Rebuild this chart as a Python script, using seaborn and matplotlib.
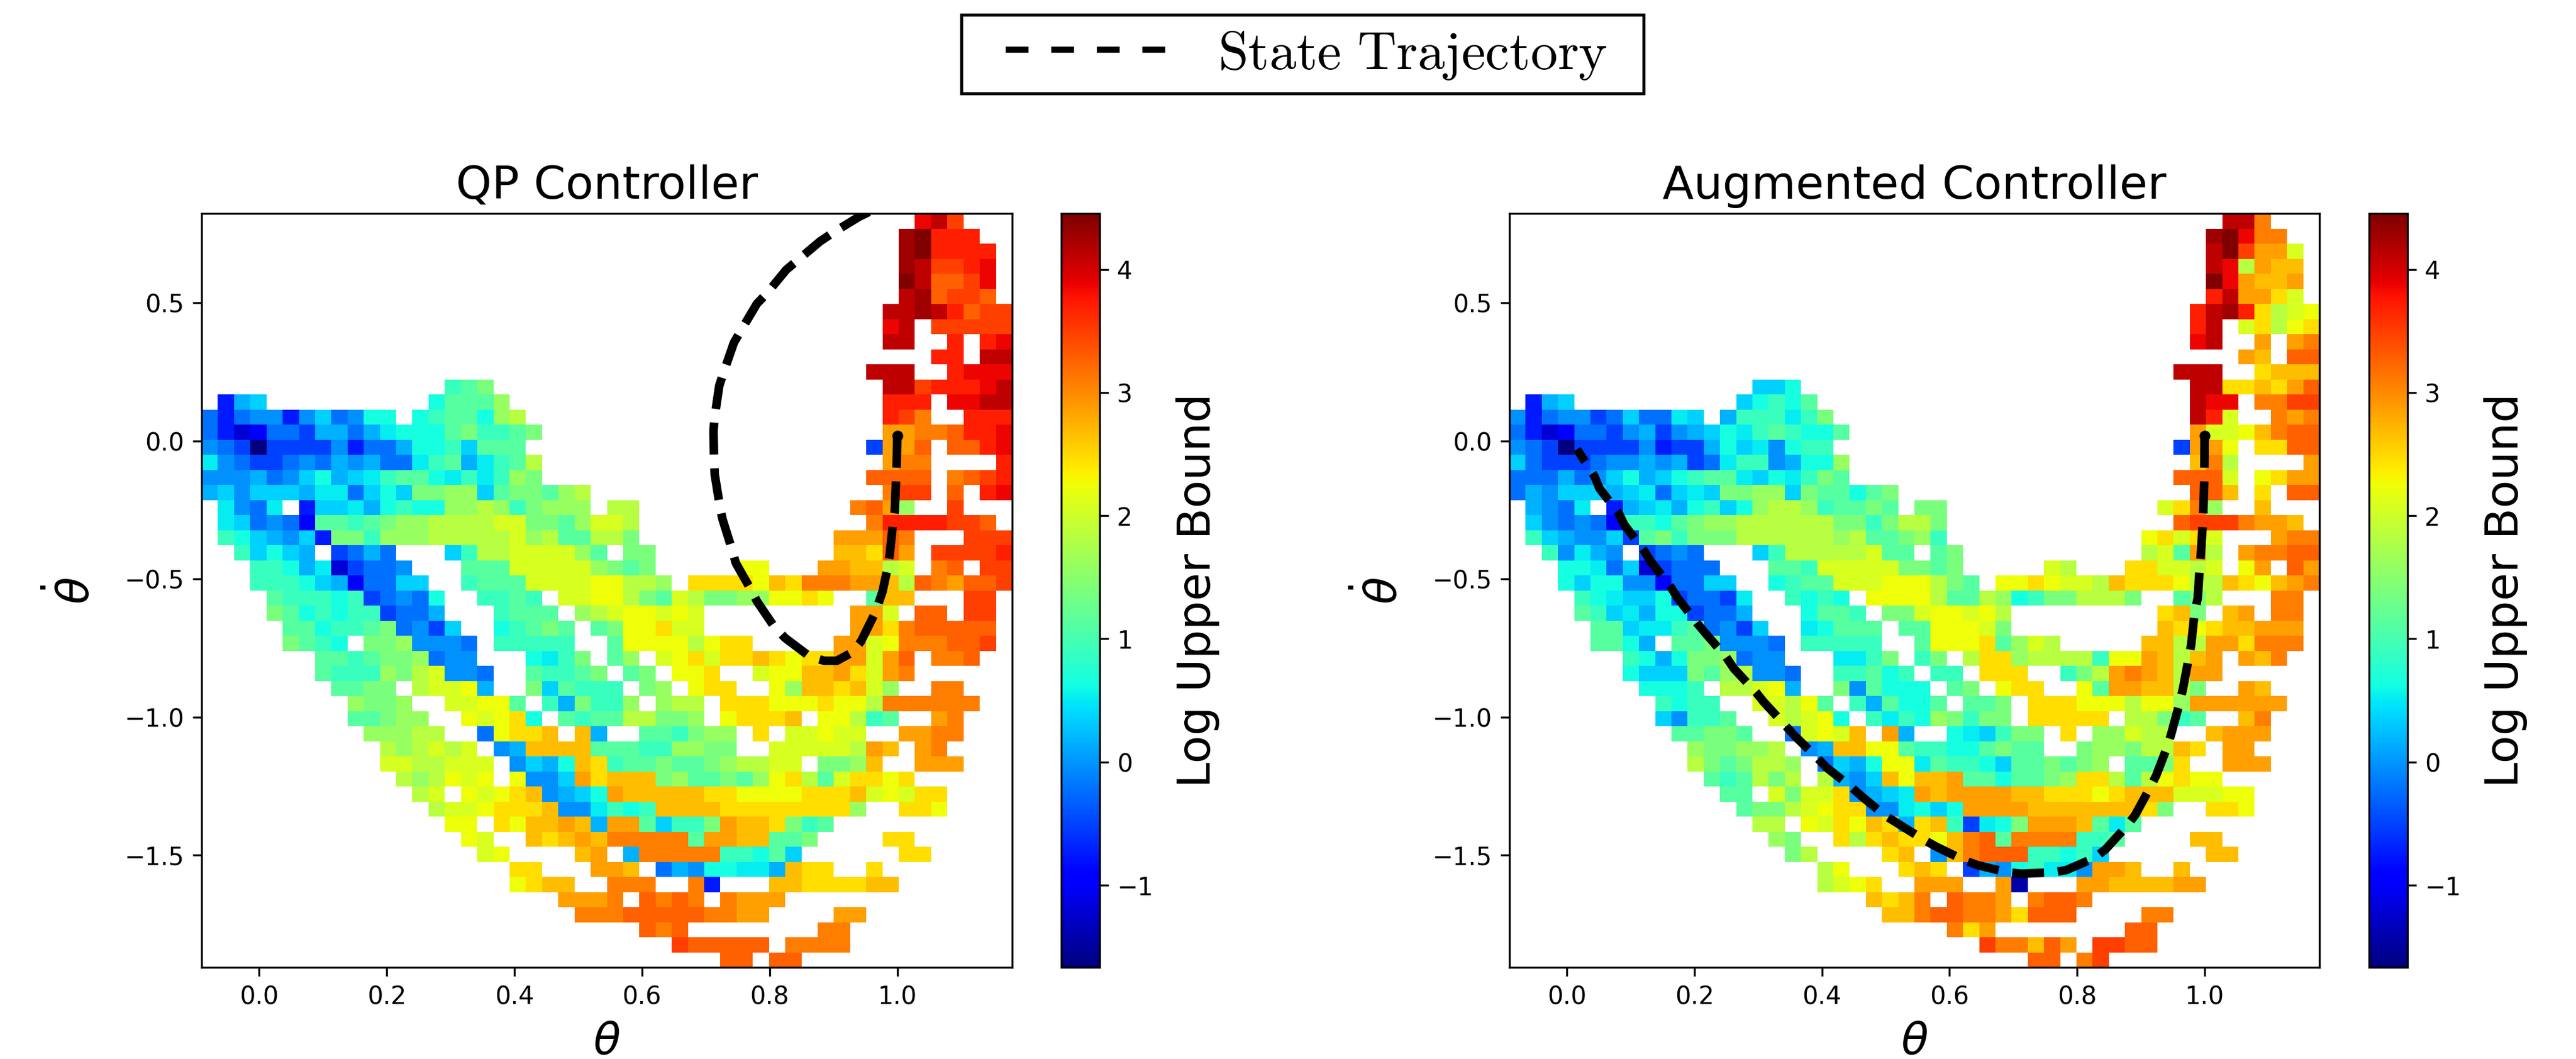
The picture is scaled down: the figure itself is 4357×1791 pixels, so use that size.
import numpy as np
import pandas as pd
import seaborn as sns
import matplotlib
matplotlib.use("Agg")
import matplotlib.pyplot as plt
from matplotlib.font_manager import FontProperties
from matplotlib.legend_handler import HandlerLine2D

# Colour-read level table: letter -> log upper bound, '.' = no data
LEVELS = dict(a=-1.65, A=-1.45, b=-1.19, c=-0.95, d=-0.74, e=-0.50, f=-0.22, g=-0.03, h=0.16, i=0.36, j=0.53,
              k=0.65, l=0.90, m=1.13, n=1.37, o=1.60, p=1.83, q=2.07, r=2.25, s=2.45, t=2.67, u=2.86,
              v=3.08, w=3.28, x=3.49, y=3.69, z=3.86, Y=4.11, X=4.27, Z=4.45)
VMIN, VMAX = -1.667, 4.454
B = "." * 25

QP_ROWS = [
    B + "...................zYx...",
    B + "..................XZyyy..",
    B + "..................XZyyyy.",
    B + "..................XYxxyz.",
    B + "..................ZYwwxz.",
    B + "..................YXwxxw.",
    B + ".................YYXYywxx",
    B + ".................zY.xxxxx",
    B + ".................YY..y.yz",
    B + "....................yy.YY",
    B + "................YYY..yzzz",
    "...............lmn......." + ".................YYxyyyzY",
    ".dhi..........kmmmo......" + ".................yyy.zzYY",
    "fdfggdgifgkk.klmmkop....." + ".................yxv..yyy",
    "fdbcffehhfhjkkkmnllmn...." + ".................uuvvwyyz",
    "gfeaeeeegdffhkklimmm....." + "................euuw.wwyz",
    "jgfeefgfhghffjlmhjlmp...." + ".................uvv....y",
    "ggghfgikhijlmmkjljlon...." + "................wwww.vwxy",
    "higiiihjjfikinnooimnnmop." + ".................vxx.w.yz",
    ".jgfj.diijhklkkoopolnooo." + "pp.............vwuo..x...",
    ".jifgfcmmlmnooppppqqnnmoq" + "qp..............vyyyyxxw.",
    ".lkihgidnnlooopppppqopmmp" + "pn............uuuwv...xxx",
    "..likih.efhf...ilppqqqqom" + ".nn...........ttswu.xxxxy",
    "...llkhjbeffg...mmmqqqqqo" + "nmn.....rr...uuttpq.vw.xx",
    "...lllkihcffii..lmmmqqqqr" + "rppo.ssssrtsvvvuutpwvuwwx",
    "....mlllklefgfk..llml.qqr" + "rpnmqpnnoorrsr..mtt...xx.",
    "....nmklklleffh...lmmm.op" + "qrrqrq.........uuq.ww.xx.",
    ".....mmkllmnfgei..klmnm.m" + "nrrsqq.........uusvwwwww.",
    ".....nmlk.nnogggf.lllll.." + "mrrrrprss.....uuqrvvvwwx.",
    ".......mmlmnnofgg...kjln." + "mo.qrsqsstsrssuuquw.vvw..",
    ".......mlllonpqggf..mllmn" + ".mn.rrs..qrrttusquv......",
    "........mmnn.pqqrh..nimll" + "l.no.rss..rottstqo..vv...",
    ".........onno..qqrrm.lhnl" + "lo.opp.sssrrrsrrpvvvvvv..",
    ".........mmnoo..rqrsk.mlm" + "mppnno.rssst.rrplm..uv...",
    "..........ooopp..frsst.th" + "..mmlnoo.s.qqrqq..uuvv...",
    "...........popqpq.ghttttm" + "mmlloonn..qqqqqput.uv....",
    "...........qqppqqq.gihkts" + "lmmnmmnoppqq.nnot..uuu...",
    "............poprqr.rggius" + "tttnommnmorspmqssrs......",
    ".............pq.rqrstghik" + "utttttssrrrrssstqrqss....",
    "..............pqqrssstggj" + "lklttttssssssss" + "o..ssr....",
    "...............rr.srttuth" + "uumillnuttsnlm...........",
    "................rq..tstut" + "vvvvvmuuttmmn....ss......",
    ".................qr....tu" + ".hvvvvvllkmi......ss.....",
    "...................ss...u" + "ut.fhgkkjjhtss..s........",
    "...................rstt.." + "vvv..vd...ttsssstt.......",
    "......................uuu" + "v.wvwv.vuuu..............",
    ".......................vv" + "vwwwwwvvuu....uu.........",
    B + "..wvw........vv..........",
    B + "....xwwwww.vvvv..........",
    B + ".......ww.ww.............",
]

AUG_ROWS = [
    B + "...................YYv...",
    B + "..................XZzvv..",
    B + "..................YZxuuq.",
    B + "..................Yzputt.",
    B + "..................Zzuttu.",
    B + "..................yYuusq.",
    B + ".................yYXyspqr",
    B + ".................yY.qsprs",
    B + ".................zY..u.uv",
    B + "....................ut.ww",
    B + "................YYY..sttt",
    "...............iik......." + ".................YYsstsuw",
    ".dhi..........iklkm......" + ".................Yzz.vvxx",
    "gdfggefiffji.hllljln....." + ".................Yyq..vuv",
    "fdbcffegheghikjlmlkkm...." + ".................uqqrtvww",
    "gfeaeeeegdeehkijgkll....." + "................euur.ssww",
    "ifeeefgghghefjllghkko...." + ".................tvp....u",
    "fffhfgikhiklmmjikjlnm...." + "................wwwq.rsuu",
    "fhgiiihijfijinnooinmmkmn." + ".................wwt.s.ww",
    ".hgfj.dhijhklikoppolmmnm." + "nn.............qsvo..t...",
    ".igfgfcllkmnooppppppnnlnp" + "pn..............wxxxvuut.",
    ".lihggiemnlnnnppppppopmmn" + "ol............rsqsq...uvv",
    "..lgjhg.efgf...ilpppppqmm" + ".mn...........pqmup.uvvww",
    "...kkjfibefff...mmlqqqqqn" + "nmn.....qp...ssqqpq.ru.wu",
    "...kikkggcffii..klmmqqqrr" + "rpnm.rrsrqqptsssrpptsrtuv",
    "....lkjiikeffej..lklk.rrr" + "rpmmpoklnnpppn..mnp...vv.",
    "....mlijhkkeffh...kmml.nn" + "qrrqrp.........stn.tu.vv.",
    ".....mmijjlmfgei..jkmmm.m" + "mrrrqn.........tsrsttuuu.",
    ".....mmkh.mmngggf.lllll.." + "mrrrsmoqp.....ttppuusvvv.",
    ".......lkhknnofgg...jjln." + "ln.pssopppplrrutptu.utv..",
    ".......kiiinmopggf..llmkl" + ".ll.sss..lnpuvutpuu......",
    "........kkkl.ppqrh..ngmkk" + "k.mn.rss..rmuuttpn..ut...",
    ".........lkll..qqprm.lhmk" + "km.mmn.sssrrrprrouuuuuu..",
    ".........igllm..qpqrk.ljl" + "konlnn.sssss.ppnlm..tv...",
    "..........mmnnm..fqrqt.uh" + "..kjilnn.s.ooqpp..tuuu...",
    "...........onnoop.ghttrrm" + "llkkmnmm..noonppts.uu....",
    "...........pnmnppo.fihkrr" + "jmllkimmnmno.mmns..uuu...",
    "............mlmpnp.phgitr" + "ttummkmmnosspmprsrr......",
    ".............mm.qnqqsghij" + "utuuuuttsssrstttqqqrr....",
    "..............mnnpqrssggj" + "kikuuuutttttttsn..ssr....",
    "...............pp.rqsrtsh" + "stlejknuuutmjm...........",
    "................on..spsts" + "srtvwmvvvvllm....tt......",
    ".................np....st" + ".gtvwwwllkli......tt.....",
    "...................pr...s" + "ts.ehgkljjguut..t........",
    "...................pqrs.." + "uuu..uA...uuttttuu.......",
    "......................tst" + "v.wvvu.vwwv..............",
    ".......................tt" + "vwwvvuswww....vv.........",
    B + "..vsu........ww..........",
    B + "....xvvtwu.xxww..........",
    B + ".......ww.vx.............",
]

# Axis ranges of the grid
THETA_MIN, THETA_MAX = -0.09, 1.18
DTHETA_MAX, DTHETA_MIN = 0.824, -1.906
X_TICKS = [0.0, 0.2, 0.4, 0.6, 0.8, 1.0]
Y_TICKS = [0.5, 0.0, -0.5, -1.0, -1.5]
CB_TICKS = [-1, 0, 1, 2, 3, 4]

# State trajectories
QP_THETA = [1.000, 0.999, 0.998, 0.996, 0.993, 0.988, 0.984, 0.977, 0.966, 0.943, 0.929, 0.905, 0.886, 0.863,
            0.824, 0.807, 0.780, 0.772, 0.747, 0.741, 0.726, 0.722, 0.714, 0.713, 0.712, 0.714, 0.721, 0.728,
            0.744, 0.755, 0.780, 0.795, 0.826, 0.843, 0.879, 0.899, 0.940, 0.965]
QP_DTHETA = [0.019, -0.087, -0.140, -0.254, -0.303, -0.414, -0.467, -0.544, -0.619, -0.726, -0.766, -0.796,
             -0.796, -0.781, -0.713, -0.672, -0.580, -0.544, -0.442, -0.393, -0.282, -0.237, -0.122, -0.074,
             0.037, 0.090, 0.200, 0.250, 0.356, 0.400, 0.497, 0.533, 0.620, 0.653, 0.723, 0.754, 0.812, 0.840]
AUG_THETA = [1.000, 0.9995, 0.998, 0.997, 0.994, 0.992, 0.990, 0.989, 0.984, 0.979, 0.975, 0.966, 0.961, 0.948,
             0.942, 0.924, 0.915, 0.891, 0.878, 0.845, 0.828, 0.783, 0.762, 0.713, 0.691, 0.644, 0.623, 0.580,
             0.559, 0.519, 0.498, 0.461, 0.446, 0.407, 0.392, 0.357, 0.343, 0.308, 0.297, 0.262, 0.250, 0.217,
             0.204, 0.173, 0.163, 0.132, 0.121, 0.090, 0.082, 0.051, 0.043, 0.016]
AUG_DTHETA = [0.019, -0.140, -0.254, -0.303, -0.414, -0.467, -0.544, -0.571, -0.628, -0.737, -0.787, -0.898,
              -0.947, -1.058, -1.104, -1.212, -1.253, -1.355, -1.394, -1.478, -1.509, -1.554, -1.562, -1.567,
              -1.562, -1.536, -1.518, -1.470, -1.443, -1.385, -1.355, -1.284, -1.253, -1.182, -1.146, -1.067,
              -1.031, -0.943, -0.911, -0.824, -0.783, -0.695, -0.659, -0.566, -0.529, -0.437, -0.397, -0.303,
              -0.264, -0.171, -0.126, -0.030]

W, H = 4357, 1791
fig = plt.figure(figsize=(W / 300, H / 300), dpi=300)


def box(x0, x1, y0, y1):
    return [x0 / W, 1 - y1 / H, (x1 - x0) / W, (y1 - y0) / H]


def grid(rows):
    for i, r in enumerate(rows):
        assert len(r) == 50, (i, len(r), r)
    assert len(rows) == 50
    return pd.DataFrame([[LEVELS.get(c, np.nan) for c in r] for r in rows])


def to_col(t):
    return (np.asarray(t) - THETA_MIN) / (THETA_MAX - THETA_MIN) * 50


def to_row(d):
    return (DTHETA_MAX - np.asarray(d)) / (DTHETA_MAX - DTHETA_MIN) * 50


def panel(rows, title, theta, dtheta, axbox, cbbox):
    ax = fig.add_axes(box(*axbox))
    cax = fig.add_axes(box(*cbbox))
    sns.heatmap(grid(rows), ax=ax, cbar_ax=cax, cmap="jet", vmin=VMIN, vmax=VMAX,
                xticklabels=False, yticklabels=False, cbar_kws={"ticks": CB_TICKS})
    sns.lineplot(x=to_col(theta), y=to_row(dtheta), ax=ax, sort=False, estimator=None, color="black",
                 linewidth=3.5, linestyle="--")
    ax.plot(to_col(theta)[0], to_row(dtheta)[0], "o", color="black", ms=3.4, zorder=5)
    ax.set_xlim(0, 50)
    ax.set_ylim(50, 0)
    ax.set_xticks(to_col(X_TICKS), [f"{v:.1f}" for v in X_TICKS], rotation=0)
    ax.set_yticks(to_row(Y_TICKS), [f"{v:.1f}".replace("-", "\u2212") for v in Y_TICKS], rotation=0)
    for s in ax.spines.values():
        s.set_visible(True)
        s.set_color("black")
        s.set_linewidth(0.8)
    ax.tick_params(labelsize=10, length=3.5, width=0.8)
    ax.set_title(title, fontsize=18.5)
    ax.set_xlabel(r"$\theta$", fontsize=18, labelpad=4.5)
    ax.set_ylabel(r"$\dot{\theta}$", fontsize=18, labelpad=10.5)
    ax.xaxis.label.set_visible(True)
    ax.yaxis.label.set_visible(True)
    cb = ax.collections[0].colorbar
    cb.outline.set_visible(True)
    cb.outline.set_edgecolor("black")
    cb.outline.set_linewidth(0.8)
    cax.tick_params(labelsize=10, length=3.5, width=0.8)
    cb.set_label("Log Upper Bound", fontsize=18.5, labelpad=9.3)
    return ax


ax1 = panel(QP_ROWS, "QP Controller", QP_THETA, QP_DTHETA, (341, 1712, 361, 1636), (1795, 1860, 361, 1636))
ax2 = panel(AUG_ROWS, "Augmented Controller", AUG_THETA, AUG_DTHETA, (2553, 3923, 361, 1636), (4007, 4072, 361, 1636))

handle = plt.Line2D([], [], color="black", linestyle=(0, (3.7, 3.7)), linewidth=2.5)
leg = fig.legend([handle], [r"$\mathrm{State\ Trajectory}$"], loc="center",
                 bbox_to_anchor=(1626 / W, 1 - 158 / H, 1154 / W, 133 / H), mode="expand", borderaxespad=0,
                 prop=FontProperties(size=22, math_fontfamily="cm"), fancybox=False, framealpha=1, edgecolor="black",
                 borderpad=0.22, handlelength=4.14, handletextpad=0.37,
                 handler_map={handle: HandlerLine2D(numpoints=2, marker_pad=0.6)})
leg.get_frame().set_linewidth(1.25)

fig.savefig("out.png", dpi=300)
